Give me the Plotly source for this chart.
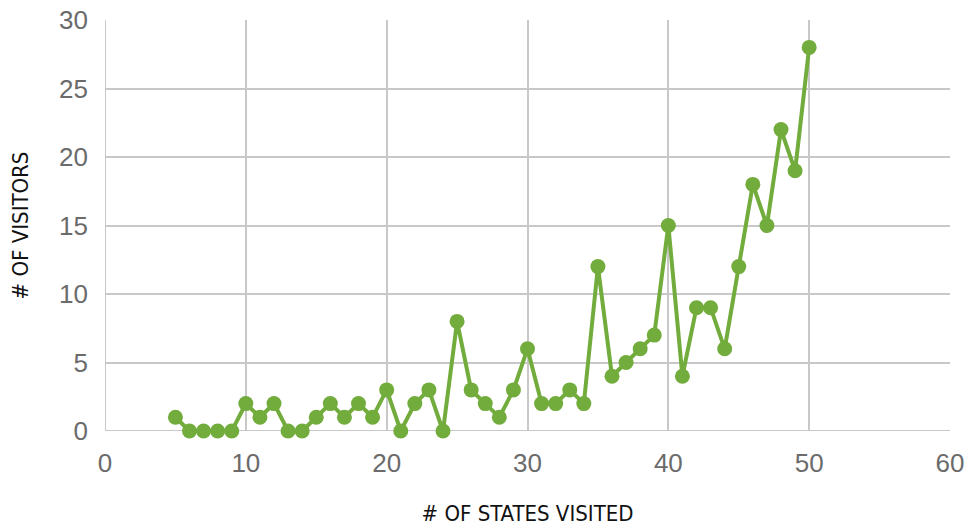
import plotly.graph_objects as go

# Number of states visited vs. number of visitors
states_visited = list(range(5, 51))
visitors = [1, 0, 0, 0, 0, 2, 1, 2, 0, 0,
            1, 2, 1, 2, 1, 3, 0, 2, 3, 0,
            8, 3, 2, 1, 3, 6, 2, 2, 3, 2,
            12, 4, 5, 6, 7, 15, 4, 9, 9, 6,
            12, 18, 15, 22, 19, 28]

x_ticks = [0, 10, 20, 30, 40, 50, 60]
y_ticks = [0, 5, 10, 15, 20, 25, 30]

GREEN = "#72ac3c"
GRID = "#c8c8c8"
TICK = "#6b6b6b"
TITLE_FONT = dict(family="DejaVu Sans Condensed, Liberation Sans Narrow, DejaVu Sans, sans-serif",
                  size=22, color="#111111")

fig = go.Figure(
    go.Scatter(
        x=states_visited,
        y=visitors,
        mode="lines+markers",
        line=dict(color=GREEN, width=4),
        marker=dict(color=GREEN, size=15),
        showlegend=False,
        cliponaxis=False,
    )
)

axis_common = dict(
    showgrid=True,
    gridcolor=GRID,
    gridwidth=2,
    zeroline=False,
    showline=False,
    ticks="",
    automargin=False,
    tickfont=dict(family="Liberation Sans, Arial, sans-serif", size=26, color=TICK),
)

fig.update_xaxes(
    range=[0, 60],
    tickvals=x_ticks,
    ticktext=[str(v) for v in x_ticks],
    ticklabelstandoff=14,
    title=dict(text="# OF STATES VISITED", font=TITLE_FONT, standoff=30),
    **axis_common,
)
fig.update_yaxes(
    range=[0, 30],
    tickvals=y_ticks,
    ticktext=[str(v) for v in y_ticks],
    ticklabelstandoff=16,
    title=dict(text="# OF VISITORS", font=TITLE_FONT, standoff=24),
    **axis_common,
)

# left and bottom edges of the plotting frame
fig.add_shape(type="line", xref="x", yref="y", x0=0, x1=0, y0=0, y1=30,
              line=dict(color=GRID, width=2), layer="below")
fig.add_shape(type="line", xref="x", yref="y", x0=0, x1=60, y0=0, y1=0,
              line=dict(color=GRID, width=2), layer="below")

fig.update_layout(
    width=976,
    height=526,
    margin=dict(l=105, r=26, t=20, b=95),
    plot_bgcolor="white",
    paper_bgcolor="white",
)

fig.write_html("out.html")
